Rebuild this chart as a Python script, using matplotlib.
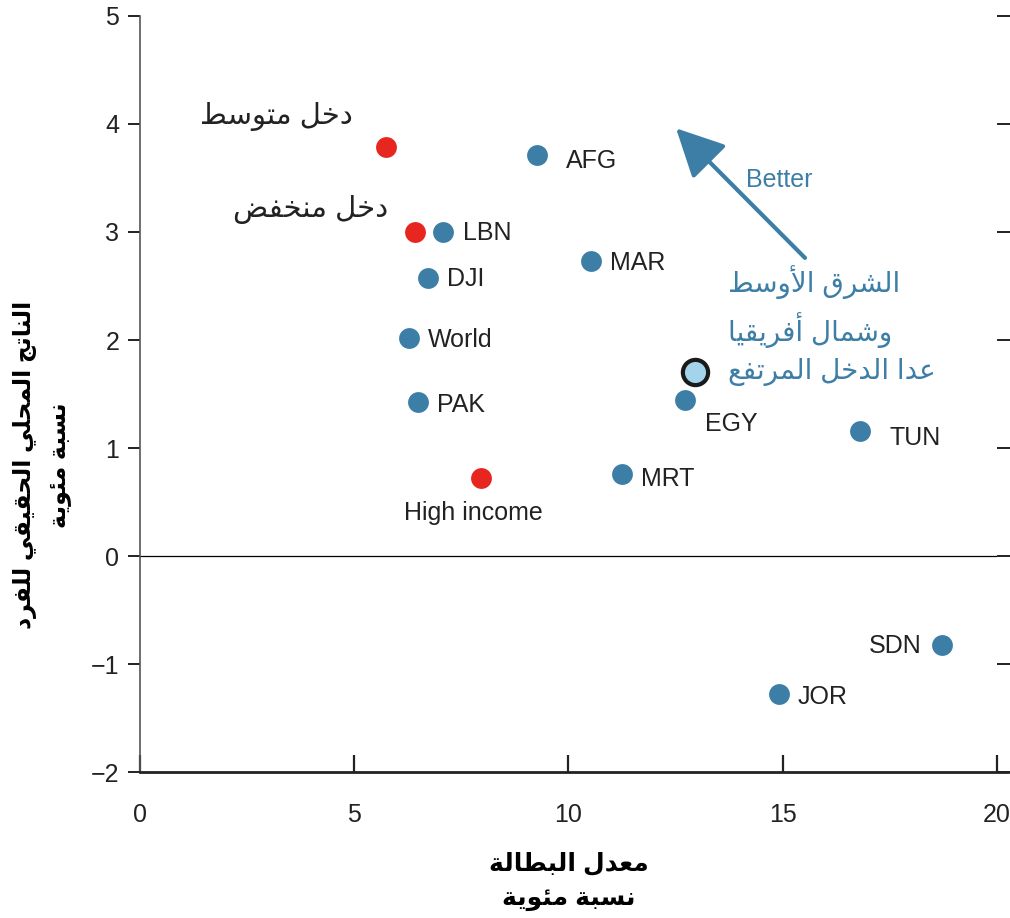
import matplotlib
matplotlib.use("Agg")
import matplotlib.pyplot as plt

plt.rcParams['font.family'] = ['Liberation Sans', 'DejaVu Sans']

blue_names = ["AFG", "LBN", "DJI", "World", "PAK", "MAR", "EGY", "MRT", "TUN", "SDN", "JOR"]
blue_x = [9.26, 7.07, 6.72, 6.28, 6.49, 10.52, 12.72, 11.25, 16.80, 18.72, 14.91]
blue_y = [3.71, 3.00, 2.57, 2.02, 1.43, 2.73, 1.44, 0.76, 1.16, -0.82, -1.28]

red_names = ["دخل متوسط", "دخل منخفض", "High income"]
red_x = [5.74, 6.42, 7.96]
red_y = [3.79, 3.00, 0.72]

mena_name = "الشرق الأوسط\nوشمال أفريقيا\nعدا الدخل المرتفع"
mena_x = [12.95]
mena_y = [1.70]

xticks = [0, 5, 10, 15, 20]
yticks = [-2, -1, 0, 1, 2, 3, 4, 5]

xlabel = "معدل البطالة\nنسبة مئوية"
ylabel = "الناتج المحلي الحقيقي للفرد\nنسبة مئوية"

BLUE = "#3d7ea6"
RED = "#e6261f"
LIGHT = "#a4d4ec"

# --- minimal arabic shaping (matplotlib has no shaping / bidi) ---
DUAL = {0x0626: 0xFE89, 0x0628: 0xFE8F, 0x062A: 0xFE95, 0x062B: 0xFE99, 0x062C: 0xFE9D,
        0x062D: 0xFEA1, 0x062E: 0xFEA5, 0x0633: 0xFEB1, 0x0634: 0xFEB5, 0x0635: 0xFEB9,
        0x0636: 0xFEBD, 0x0637: 0xFEC1, 0x0638: 0xFEC5, 0x0639: 0xFEC9, 0x063A: 0xFECD,
        0x0641: 0xFED1, 0x0642: 0xFED5, 0x0643: 0xFED9, 0x0644: 0xFEDD, 0x0645: 0xFEE1,
        0x0646: 0xFEE5, 0x0647: 0xFEE9, 0x064A: 0xFEF1}
RIGHT = {0x0622: 0xFE81, 0x0623: 0xFE83, 0x0624: 0xFE85, 0x0625: 0xFE87, 0x0627: 0xFE8D,
         0x0629: 0xFE93, 0x062F: 0xFEA9, 0x0630: 0xFEAB, 0x0631: 0xFEAD, 0x0632: 0xFEAF,
         0x0648: 0xFEED, 0x0649: 0xFEEF}
LAM_ALEF = {0x0622: 0xFEF5, 0x0623: 0xFEF7, 0x0625: 0xFEF9, 0x0627: 0xFEFB}


def shape_line(line):
    cs = [ord(c) for c in line]
    n = len(cs)
    out = []
    i = 0
    while i < n:
        c = cs[i]
        prev = i > 0 and cs[i - 1] in DUAL
        if c == 0x0644 and i + 1 < n and cs[i + 1] in LAM_ALEF:
            out.append(chr(LAM_ALEF[cs[i + 1]] + (1 if prev else 0)))
            i += 2
            continue
        nxt = c in DUAL and i + 1 < n and (cs[i + 1] in DUAL or cs[i + 1] in RIGHT)
        if c in DUAL:
            form = {(False, False): 0, (True, False): 1, (False, True): 2, (True, True): 3}[(prev, nxt)]
            out.append(chr(DUAL[c] + form))
        elif c in RIGHT:
            out.append(chr(RIGHT[c] + (1 if prev else 0)))
        else:
            out.append(chr(c))
        i += 1
    return "".join(out[::-1])


def ar(text):
    if not any(0x0600 <= ord(c) <= 0x06FF for c in text):
        return text
    return "\n".join(shape_line(l) for l in text.split("\n"))


fig = plt.figure(figsize=(10.1, 9.18), dpi=100)
ax = fig.add_axes([0.1386, 0.159, 0.8485, 0.8236])

ax.axhline(0, color="black", lw=0.9, zorder=1)

ax.scatter(blue_x, blue_y, s=225, color=BLUE, linewidths=0, zorder=3)
ax.scatter(red_x, red_y, s=225, color=RED, linewidths=0, zorder=3)
ax.scatter(mena_x, mena_y, s=330, color=LIGHT, edgecolors="#1a1a1a", linewidths=3, zorder=4)

# label offsets in pixels, relative to the point
blue_off = {"AFG": (29, -6), "LBN": (20, -1), "DJI": (19, -1), "World": (19, -2),
            "PAK": (19, -3), "MAR": (19, -2), "EGY": (20, -24), "MRT": (19, -5),
            "TUN": (30, -7), "SDN": (-21, -1), "JOR": (19, -3)}
for name, x, y in zip(blue_names, blue_x, blue_y):
    dx, dy = blue_off[name]
    ax.annotate(name, (x, y), xytext=(dx, dy), textcoords="offset pixels",
                ha="left" if dx > 0 else "right", va="center", fontsize=18, color="#222222")

red_off = [(-33, 30, "right", 21), (-27, 22, "right", 21), (-8, -35, "center", 18)]
for name, x, y, (dx, dy, ha, fs) in zip(red_names, red_x, red_y, red_off):
    ax.annotate(ar(name), (x, y), xytext=(dx, dy), textcoords="offset pixels",
                ha=ha, va="center", fontsize=fs, color="#222222")

ax.annotate(ar(mena_name), (mena_x[0], mena_y[0]), xytext=(33, 47), textcoords="offset pixels",
            ha="left", va="center", fontsize=20, color=BLUE, linespacing=1.45,
            multialignment="left")

# "Better" arrow
ax.annotate("", xy=(12.51, 3.96), xytext=(15.52, 2.76),
            arrowprops=dict(arrowstyle="-|>,head_length=1.1,head_width=0.55", color=BLUE,
                            lw=3, mutation_scale=27, shrinkA=0, shrinkB=0))
ax.text(14.93, 3.48, "Better", color=BLUE, fontsize=18, ha="center", va="center")

ax.set_xlim(0, 20)
ax.set_ylim(-2, 5)
ax.set_xticks(xticks)
ax.set_yticks(yticks)

for s in ["top", "right"]:
    ax.spines[s].set_visible(False)
ax.spines["left"].set_color("#555555")
ax.spines["left"].set_linewidth(1.2)
ax.spines["bottom"].set_color("#222222")
ax.spines["bottom"].set_linewidth(2)
ax.spines["bottom"].set_bounds(0, 20.25)

ax.tick_params(axis="x", direction="in", length=12, width=1.6, color="#222222",
               labelsize=18, pad=22, labelcolor="#222222")
ax.tick_params(axis="y", direction="out", length=9, width=1.4, color="#222222",
               labelsize=18, pad=6, labelcolor="#222222", right=True)

ax.text(0.5, -0.144, ar(xlabel), transform=ax.transAxes, fontsize=18, fontweight="bold",
        ha="center", va="center", linespacing=1.55, multialignment="center")
ax.text(-0.114, 0.406, ar(ylabel), transform=ax.transAxes, rotation=90, fontsize=17,
        fontweight="bold", ha="center", va="center", linespacing=1.6, multialignment="center")

fig.savefig("out.png", dpi=100)
